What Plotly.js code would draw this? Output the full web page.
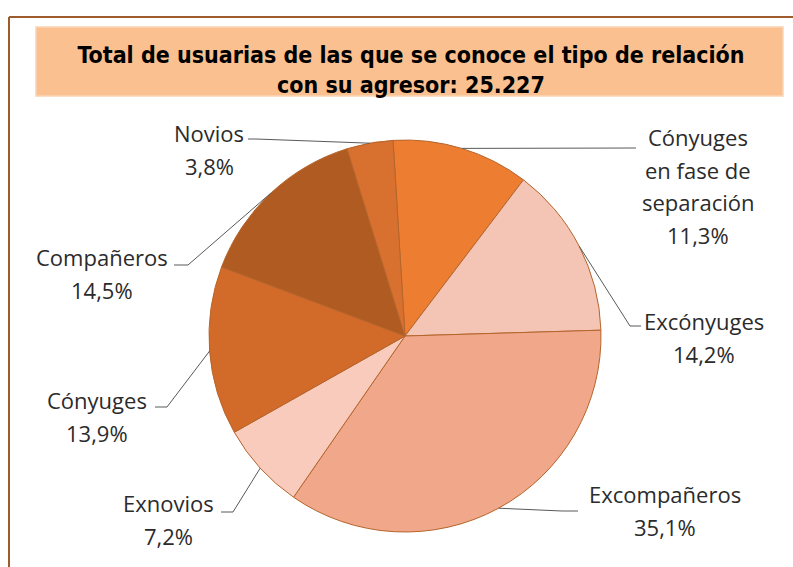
<!DOCTYPE html>
<html>
<head>
<meta charset="utf-8">
<script src="https://cdn.plot.ly/plotly-3.0.1.min.js"></script>
<style>html,body{margin:0;padding:0;background:#fff;}#chart{width:793px;height:567px;}</style>
</head>
<body>
<div id="chart"></div>
<script>
// ---- data ----
var categories = ["Cónyuges en fase de separación", "Excónyuges", "Excompañeros", "Exnovios", "Cónyuges", "Compañeros", "Novios"];
var labelLines = [["Cónyuges", "en fase de", "separación"], ["Excónyuges"], ["Excompañeros"], ["Exnovios"], ["Cónyuges"], ["Compañeros"], ["Novios"]];
var percents = [11.3, 14.2, 35.1, 7.2, 13.9, 14.5, 3.8];
var percentLabels = ["11,3%", "14,2%", "35,1%", "7,2%", "13,9%", "14,5%", "3,8%"];
var titleText = "Total de usuarias de las que se conoce el tipo de relación<br>con su agresor: 25.227";

// ---- layout constants (pixels) ----
var W = 793, H = 567;
var CX = 405, CY = 336, R = 196;
var ROT = -3.5;
var colors = ["#ED7D31", "#F4C5B5", "#F0A78A", "#F8CBBD", "#D26B2A", "#B05B22", "#D8712F"];
// label block centers (first line y) and leader elbow / end points
var labelPos = [
  {x: 698, y: 137, elbow: [636, 148], end: [636, 148]},
  {x: 704, y: 321, elbow: [630, 326], end: [641, 326]},
  {x: 665, y: 494, elbow: [562, 511], end: [578, 511]},
  {x: 168, y: 503, elbow: [233, 512], end: [221, 512]},
  {x: 97, y: 400, elbow: [167, 407], end: [155, 407]},
  {x: 102, y: 257, elbow: [188, 265], end: [174, 265]},
  {x: 209, y: 133, elbow: [256, 139], end: [248, 139]}
];
var LINE_H = 32.5;

function px(x) { return x / W; }
function py(y) { return 1 - y / H; }

var total = percents.reduce(function (a, b) { return a + b; }, 0);
var annotations = [];
var shapes = [];

// frame
shapes.push({type: "line", xref: "paper", yref: "paper", x0: px(9), x1: px(W + 5), y0: py(17), y1: py(17), line: {color: "#9E5B2C", width: 2}});
shapes.push({type: "line", xref: "paper", yref: "paper", x0: px(9), x1: px(9), y0: py(17), y1: py(H + 5), line: {color: "#9E5B2C", width: 2}});
// title box
shapes.push({type: "rect", xref: "paper", yref: "paper", x0: px(36), x1: px(783), y0: py(27), y1: py(96), fillcolor: "#FAC090", line: {color: "#FCD3B2", width: 1.5}, layer: "below"});

var cum = 0;
for (var i = 0; i < percents.length; i++) {
  var mid = ROT + 360 * (cum + percents[i] / 2) / total;
  cum += percents[i];
  var th = mid * Math.PI / 180;
  var ax = CX + R * Math.sin(th), ay = CY - R * Math.cos(th);
  var lp = labelPos[i];
  shapes.push({
    type: "path", xref: "paper", yref: "paper",
    path: "M " + px(lp.end[0]) + "," + py(lp.end[1]) + " L " + px(lp.elbow[0]) + "," + py(lp.elbow[1]) + " L " + px(ax) + "," + py(ay),
    line: {color: "#595959", width: 1}
  });
  var lines = labelLines[i].concat([percentLabels[i]]);
  for (var k = 0; k < lines.length; k++) {
    annotations.push({
      xref: "paper", yref: "paper", x: px(lp.x), y: py(lp.y + k * LINE_H),
      text: lines[k], showarrow: false, xanchor: "center", yanchor: "middle",
      font: {family: "Open Sans, Noto Sans, sans-serif", size: 22, color: "#2b2b2b"}
    });
  }
}

var trace = {
  type: "pie",
  labels: categories,
  values: percents,
  sort: false,
  direction: "clockwise",
  rotation: ROT,
  textinfo: "none",
  hoverinfo: "label+percent",
  marker: {colors: colors, line: {color: "#B5652C", width: 1}},
  domain: {x: [px(CX - R), px(CX + R)], y: [py(CY + R), py(CY - R)]},
  showlegend: false
};

var layout = {
  width: W, height: H,
  margin: {l: 0, r: 0, t: 0, b: 0},
  paper_bgcolor: "#ffffff",
  showlegend: false,
  title: {
    text: titleText,
    xref: "paper", yref: "paper", x: px(411), y: py(63), xanchor: "center", yanchor: "middle",
    font: {family: "DejaVu Sans Condensed, DejaVu Sans, sans-serif", size: 23, color: "#000000", weight: "bold"}
  },
  shapes: shapes,
  annotations: annotations
};

Plotly.newPlot("chart", [trace], layout, {displayModeBar: false, staticPlot: true});
</script>
</body>
</html>
